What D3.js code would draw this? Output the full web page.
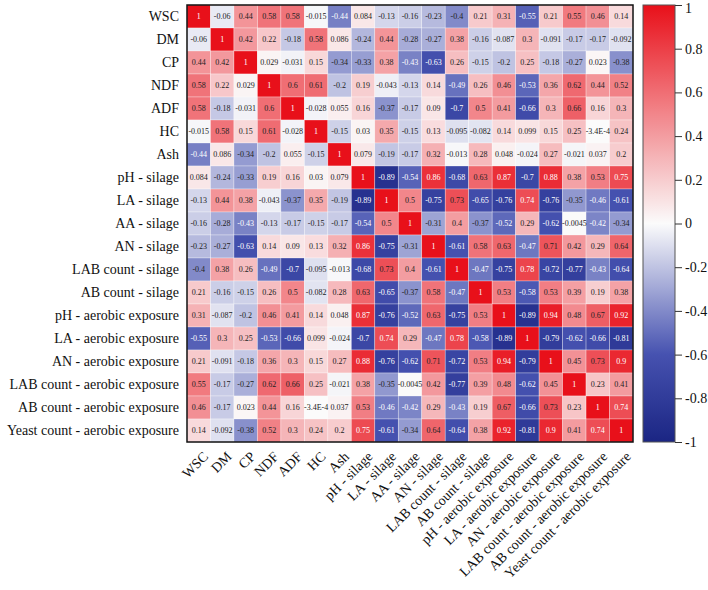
<!DOCTYPE html>
<html>
<head>
<meta charset="utf-8">
<script src="https://cdn.jsdelivr.net/npm/d3@7"></script>
<style>
  body { margin: 0; background: #fff; }
  svg text { font-family: "Liberation Serif", "DejaVu Serif", "Times New Roman", serif; }
</style>
</head>
<body>
<div id="chart"></div>
<script>
let variables = [
    'WSC', 'DM', 'CP', 'NDF', 'ADF', 'HC', 'Ash',
    'pH - silage', 'LA - silage', 'AA - silage', 'AN - silage',
    'LAB count - silage', 'AB count - silage',
    'pH - aerobic exposure', 'LA - aerobic exposure', 'AN - aerobic exposure',
    'LAB count - aerobic exposure', 'AB count - aerobic exposure',
    'Yeast count - aerobic exposure'
];

// correlation matrix, one row per variable
let r_wsc   = [1, -0.06, 0.44, 0.58, 0.58, -0.015, -0.44, 0.084, -0.13, -0.16, -0.23, -0.4, 0.21, 0.31, -0.55, 0.21, 0.55, 0.46, 0.14];
let r_dm    = [-0.06, 1, 0.42, 0.22, -0.18, 0.58, 0.086, -0.24, 0.44, -0.28, -0.27, 0.38, -0.16, -0.087, 0.3, -0.091, -0.17, -0.17, -0.092];
let r_cp    = [0.44, 0.42, 1, 0.029, -0.031, 0.15, -0.34, -0.33, 0.38, -0.43, -0.63, 0.26, -0.15, -0.2, 0.25, -0.18, -0.27, 0.023, -0.38];
let r_ndf   = [0.58, 0.22, 0.029, 1, 0.6, 0.61, -0.2, 0.19, -0.043, -0.13, 0.14, -0.49, 0.26, 0.46, -0.53, 0.36, 0.62, 0.44, 0.52];
let r_adf   = [0.58, -0.18, -0.031, 0.6, 1, -0.028, 0.055, 0.16, -0.37, -0.17, 0.09, -0.7, 0.5, 0.41, -0.66, 0.3, 0.66, 0.16, 0.3];
let r_hc    = [-0.015, 0.58, 0.15, 0.61, -0.028, 1, -0.15, 0.03, 0.35, -0.15, 0.13, -0.095, -0.082, 0.14, 0.099, 0.15, 0.25, -0.00034, 0.24];
let r_ash   = [-0.44, 0.086, -0.34, -0.2, 0.055, -0.15, 1, 0.079, -0.19, -0.17, 0.32, -0.013, 0.28, 0.048, -0.024, 0.27, -0.021, 0.037, 0.2];
let r_phs   = [0.084, -0.24, -0.33, 0.19, 0.16, 0.03, 0.079, 1, -0.89, -0.54, 0.86, -0.68, 0.63, 0.87, -0.7, 0.88, 0.38, 0.53, 0.75];
let r_las   = [-0.13, 0.44, 0.38, -0.043, -0.37, 0.35, -0.19, -0.89, 1, 0.5, -0.75, 0.73, -0.65, -0.76, 0.74, -0.76, -0.35, -0.46, -0.61];
let r_aas   = [-0.16, -0.28, -0.43, -0.13, -0.17, -0.15, -0.17, -0.54, 0.5, 1, -0.31, 0.4, -0.37, -0.52, 0.29, -0.62, -0.0045, -0.42, -0.34];
let r_ans   = [-0.23, -0.27, -0.63, 0.14, 0.09, 0.13, 0.32, 0.86, -0.75, -0.31, 1, -0.61, 0.58, 0.63, -0.47, 0.71, 0.42, 0.29, 0.64];
let r_labs  = [-0.4, 0.38, 0.26, -0.49, -0.7, -0.095, -0.013, -0.68, 0.73, 0.4, -0.61, 1, -0.47, -0.75, 0.78, -0.72, -0.77, -0.43, -0.64];
let r_abs   = [0.21, -0.16, -0.15, 0.26, 0.5, -0.082, 0.28, 0.63, -0.65, -0.37, 0.58, -0.47, 1, 0.53, -0.58, 0.53, 0.39, 0.19, 0.38];
let r_pha   = [0.31, -0.087, -0.2, 0.46, 0.41, 0.14, 0.048, 0.87, -0.76, -0.52, 0.63, -0.75, 0.53, 1, -0.89, 0.94, 0.48, 0.67, 0.92];
let r_laa   = [-0.55, 0.3, 0.25, -0.53, -0.66, 0.099, -0.024, -0.7, 0.74, 0.29, -0.47, 0.78, -0.58, -0.89, 1, -0.79, -0.62, -0.66, -0.81];
let r_ana   = [0.21, -0.091, -0.18, 0.36, 0.3, 0.15, 0.27, 0.88, -0.76, -0.62, 0.71, -0.72, 0.53, 0.94, -0.79, 1, 0.45, 0.73, 0.9];
let r_laba  = [0.55, -0.17, -0.27, 0.62, 0.66, 0.25, -0.021, 0.38, -0.35, -0.0045, 0.42, -0.77, 0.39, 0.48, -0.62, 0.45, 1, 0.23, 0.41];
let r_aba   = [0.46, -0.17, 0.023, 0.44, 0.16, -0.00034, 0.037, 0.53, -0.46, -0.42, 0.29, -0.43, 0.19, 0.67, -0.66, 0.73, 0.23, 1, 0.74];
let r_yeast = [0.14, -0.092, -0.38, 0.52, 0.3, 0.24, 0.2, 0.75, -0.61, -0.34, 0.64, -0.64, 0.38, 0.92, -0.81, 0.9, 0.41, 0.74, 1];

let matrix = [r_wsc, r_dm, r_cp, r_ndf, r_adf, r_hc, r_ash, r_phs, r_las, r_aas, r_ans,
    r_labs, r_abs, r_pha, r_laa, r_ana, r_laba, r_aba, r_yeast];

let legend_ticks = [1, 0.8, 0.6, 0.4, 0.2, 0, -0.2, -0.4, -0.6, -0.8, -1];

let chart_width  = 708;
let chart_height = 590;
let m_left = 187, m_top = 5, m_right = 633, m_bottom = 442;
let serif = '"Liberation Serif", "DejaVu Serif", serif';

let cells = [];
matrix.forEach(function(row, i) {
    row.forEach(function(v, j) {
        cells.push({ row: variables[i], col: variables[j], value: v });
    });
});

let svg = d3.select('#chart')
    .append('svg')
    .attr('width', chart_width)
    .attr('height', chart_height)
    .attr('font-family', serif);

// Scales
let xScale = d3.scaleBand().domain(variables).range([m_left, m_right]);
let yScale = d3.scaleBand().domain(variables).range([m_top, m_bottom]);

let color = d3.scaleLinear()
    .domain([-1, -0.6, 0, 1])
    .range(['#1b2583', '#4652b0', '#fbfbfb', '#e8101a'])
    .clamp(true);

function fmt(v) {
    if (v === 1) return '1';
    if (v !== 0 && Math.abs(v) < 0.001) {
        let e = d3.format('.1e')(v).replace('\u2212', '-');   // -3.4e-4
        return e.replace('e', 'E');
    }
    return d3.format('.2~g')(v).replace('\u2212', '-');
}

// Cells
svg.append('g')
    .selectAll('rect')
    .data(cells)
    .enter()
    .append('rect')
    .attr('x', d => xScale(d.col))
    .attr('y', d => yScale(d.row))
    .attr('width', xScale.bandwidth())
    .attr('height', yScale.bandwidth())
    .attr('fill', d => color(d.value))
    .attr('stroke', '#ffffff')
    .attr('stroke-opacity', 0.5)
    .attr('stroke-width', 0.6);

svg.append('g')
    .selectAll('text')
    .data(cells)
    .enter()
    .append('text')
    .text(d => fmt(d.value))
    .attr('x', d => xScale(d.col) + xScale.bandwidth() / 2)
    .attr('y', d => yScale(d.row) + yScale.bandwidth() / 2)
    .attr('dy', '0.35em')
    .attr('text-anchor', 'middle')
    .attr('font-family', serif)
    .attr('font-size', '8px')
    .attr('fill', d => d3.lab(color(d.value)).l < 57 ? '#ffffff' : '#222222');

// Border
svg.append('rect')
    .attr('x', m_left)
    .attr('y', m_top)
    .attr('width', m_right - m_left)
    .attr('height', m_bottom - m_top)
    .attr('fill', 'none')
    .attr('stroke', '#111')
    .attr('stroke-width', 1.5);

// Row labels
svg.append('g')
    .selectAll('text')
    .data(variables)
    .enter()
    .append('text')
    .text(d => d)
    .attr('x', m_left - 8)
    .attr('y', d => yScale(d) + yScale.bandwidth() / 2)
    .attr('dy', '0.35em')
    .attr('text-anchor', 'end')
    .attr('font-family', serif)
    .attr('font-size', '14px')
    .attr('fill', '#111');

// Column labels
svg.append('g')
    .selectAll('text')
    .data(variables)
    .enter()
    .append('text')
    .text(d => d)
    .attr('transform', d => 'translate(' + (xScale(d) + xScale.bandwidth() / 2 + 7) + ',' + (m_bottom + 12) + ') rotate(-45)')
    .attr('dy', '0.35em')
    .attr('text-anchor', 'end')
    .attr('font-family', serif)
    .attr('font-size', '14px')
    .attr('fill', '#111');

// Colour bar
let bar_x = 643, bar_w = 32;
let legendScale = d3.scaleLinear().domain([-1, 1]).range([m_bottom, m_top]);

let defs = svg.append('defs');
let grad = defs.append('linearGradient')
    .attr('id', 'cbar')
    .attr('x1', '0%').attr('y1', '100%')
    .attr('x2', '0%').attr('y2', '0%');
grad.selectAll('stop')
    .data(d3.range(-1, 1.001, 0.05))
    .enter()
    .append('stop')
    .attr('offset', d => ((d + 1) / 2 * 100) + '%')
    .attr('stop-color', d => color(d));

svg.append('rect')
    .attr('x', bar_x)
    .attr('y', m_top)
    .attr('width', bar_w)
    .attr('height', m_bottom - m_top)
    .attr('fill', 'url(#cbar)')
    .attr('stroke', '#555')
    .attr('stroke-width', 1);

let legendAxis = d3.axisRight(legendScale)
    .tickValues(legend_ticks)
    .tickSize(7)
    .tickPadding(3)
    .tickFormat(d => d3.format('~g')(d).replace('\u2212', '-'));

let ax = svg.append('g')
    .attr('transform', 'translate(' + (bar_x + bar_w) + ',0)')
    .call(legendAxis);
ax.select('.domain').remove();
ax.attr('font-family', serif);
ax.selectAll('text')
    .attr('font-size', '14px')
    .attr('font-family', serif)
    .attr('fill', '#111')
    .attr('dy', d => d === 1 ? '0.55em' : '0.32em');   // keep top label inside the page
ax.selectAll('line').attr('stroke', '#333');
</script>
</body>
</html>
